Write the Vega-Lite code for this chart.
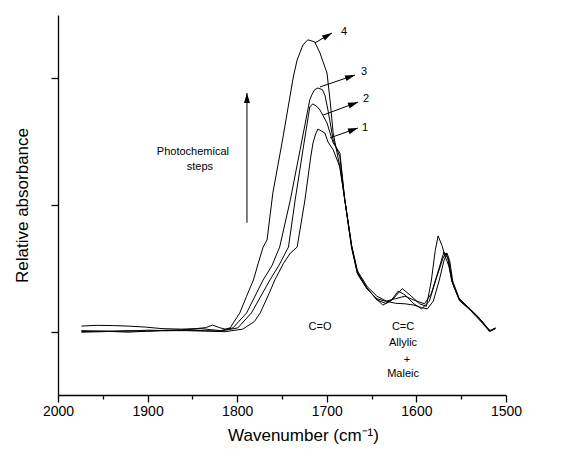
{
  "$schema": "https://vega.github.io/schema/vega-lite/v6.json",
  "width": 448,
  "height": 380,
  "autosize": "none",
  "padding": {"left": 58, "top": 15, "right": 55, "bottom": 61},
  "config": {
    "view": {"stroke": null},
    "font": "Liberation Sans",
    "axis": {
      "domainColor": "black", "domainWidth": 1.3, "tickColor": "black", "tickWidth": 1.3,
      "labelColor": "black", "titleColor": "black", "grid": false,
      "labelFont": "Liberation Sans", "titleFont": "Liberation Sans", "titleFontWeight": "normal"
    }
  },
  "datasets": {
    "spectra": [
      {"curve": "4", "wn": 1973.9, "abs": 0.022}, {"curve": "4", "wn": 1956.6, "abs": 0.025}, {"curve": "4", "wn": 1938.1, "abs": 0.024}, {"curve": "4", "wn": 1921.8, "abs": 0.022}, {"curve": "4", "wn": 1902.3, "abs": 0.018}, {"curve": "4", "wn": 1883.9, "abs": 0.012}, {"curve": "4", "wn": 1862.2, "abs": 0.010}, {"curve": "4", "wn": 1845.9, "abs": 0.012}, {"curve": "4", "wn": 1835.1, "abs": 0.016}, {"curve": "4", "wn": 1827.5, "abs": 0.026}, {"curve": "4", "wn": 1819.9, "abs": 0.016}, {"curve": "4", "wn": 1813.4, "abs": 0.010}, {"curve": "4", "wn": 1807.9, "abs": 0.015}, {"curve": "4", "wn": 1797.1, "abs": 0.074}, {"curve": "4", "wn": 1789.5, "abs": 0.14}, {"curve": "4", "wn": 1781.9, "abs": 0.204}, {"curve": "4", "wn": 1776.5, "abs": 0.27}, {"curve": "4", "wn": 1771.1, "abs": 0.334}, {"curve": "4", "wn": 1766.7, "abs": 0.362}, {"curve": "4", "wn": 1760.2, "abs": 0.548}, {"curve": "4", "wn": 1749.4, "abs": 0.757}, {"curve": "4", "wn": 1737.4, "abs": 1.005}, {"curve": "4", "wn": 1733.1, "abs": 1.073}, {"curve": "4", "wn": 1726.6, "abs": 1.132}, {"curve": "4", "wn": 1721.2, "abs": 1.152}, {"curve": "4", "wn": 1713.6, "abs": 1.144}, {"curve": "4", "wn": 1707.6, "abs": 1.10}, {"curve": "4", "wn": 1699.8, "abs": 1.021}, {"curve": "4", "wn": 1696.4, "abs": 0.915}, {"curve": "4", "wn": 1692.9, "abs": 0.784}, {"curve": "4", "wn": 1685.4, "abs": 0.65}, {"curve": "4", "wn": 1679.9, "abs": 0.52}, {"curve": "4", "wn": 1672.3, "abs": 0.34}, {"curve": "4", "wn": 1665.8, "abs": 0.235}, {"curve": "4", "wn": 1655.0, "abs": 0.172}, {"curve": "4", "wn": 1644.1, "abs": 0.125}, {"curve": "4", "wn": 1634.4, "abs": 0.112}, {"curve": "4", "wn": 1625.7, "abs": 0.13}, {"curve": "4", "wn": 1615.9, "abs": 0.17}, {"curve": "4", "wn": 1607.2, "abs": 0.145}, {"curve": "4", "wn": 1596.4, "abs": 0.11}, {"curve": "4", "wn": 1588.8, "abs": 0.10}, {"curve": "4", "wn": 1583.4, "abs": 0.2}, {"curve": "4", "wn": 1579.0, "abs": 0.32}, {"curve": "4", "wn": 1575.8, "abs": 0.378}, {"curve": "4", "wn": 1571.4, "abs": 0.34}, {"curve": "4", "wn": 1568.2, "abs": 0.30}, {"curve": "4", "wn": 1563.9, "abs": 0.26}, {"curve": "4", "wn": 1559.5, "abs": 0.19}, {"curve": "4", "wn": 1553.0, "abs": 0.135}, {"curve": "4", "wn": 1542.2, "abs": 0.095}, {"curve": "4", "wn": 1531.3, "abs": 0.06}, {"curve": "4", "wn": 1522.6, "abs": 0.02}, {"curve": "4", "wn": 1517.2, "abs": 0.003}, {"curve": "4", "wn": 1511.8, "abs": 0.012},

      {"curve": "3", "wn": 1973.9, "abs": 0.004}, {"curve": "3", "wn": 1949.0, "abs": 0.002}, {"curve": "3", "wn": 1921.8, "abs": 0.002}, {"curve": "3", "wn": 1900.1, "abs": 0.006}, {"curve": "3", "wn": 1878.4, "abs": 0.004}, {"curve": "3", "wn": 1856.8, "abs": 0.008}, {"curve": "3", "wn": 1840.5, "abs": 0.012}, {"curve": "3", "wn": 1829.6, "abs": 0.008}, {"curve": "3", "wn": 1818.8, "abs": 0.004}, {"curve": "3", "wn": 1804.7, "abs": 0.015}, {"curve": "3", "wn": 1789.5, "abs": 0.074}, {"curve": "3", "wn": 1771.1, "abs": 0.204}, {"curve": "3", "wn": 1761.3, "abs": 0.26}, {"curve": "3", "wn": 1752.6, "abs": 0.334}, {"curve": "3", "wn": 1740.7, "abs": 0.52}, {"curve": "3", "wn": 1729.8, "abs": 0.718}, {"curve": "3", "wn": 1719.0, "abs": 0.915}, {"curve": "3", "wn": 1716.8, "abs": 0.934}, {"curve": "3", "wn": 1713.6, "abs": 0.955}, {"curve": "3", "wn": 1709.9, "abs": 0.962}, {"curve": "3", "wn": 1704.9, "abs": 0.955}, {"curve": "3", "wn": 1702.1, "abs": 0.934}, {"curve": "3", "wn": 1698.7, "abs": 0.875}, {"curve": "3", "wn": 1692.9, "abs": 0.757}, {"curve": "3", "wn": 1685.4, "abs": 0.69}, {"curve": "3", "wn": 1679.9, "abs": 0.52}, {"curve": "3", "wn": 1672.3, "abs": 0.335}, {"curve": "3", "wn": 1665.8, "abs": 0.23}, {"curve": "3", "wn": 1655.0, "abs": 0.17}, {"curve": "3", "wn": 1644.1, "abs": 0.128}, {"curve": "3", "wn": 1637.6, "abs": 0.105}, {"curve": "3", "wn": 1628.9, "abs": 0.12}, {"curve": "3", "wn": 1620.3, "abs": 0.16}, {"curve": "3", "wn": 1612.7, "abs": 0.145}, {"curve": "3", "wn": 1602.9, "abs": 0.11}, {"curve": "3", "wn": 1594.2, "abs": 0.09}, {"curve": "3", "wn": 1585.6, "abs": 0.12}, {"curve": "3", "wn": 1576.9, "abs": 0.22}, {"curve": "3", "wn": 1570.4, "abs": 0.29}, {"curve": "3", "wn": 1567.1, "abs": 0.31}, {"curve": "3", "wn": 1563.9, "abs": 0.28}, {"curve": "3", "wn": 1559.5, "abs": 0.19}, {"curve": "3", "wn": 1551.9, "abs": 0.125}, {"curve": "3", "wn": 1540.0, "abs": 0.088}, {"curve": "3", "wn": 1525.9, "abs": 0.036}, {"curve": "3", "wn": 1518.3, "abs": 0.003}, {"curve": "3", "wn": 1511.8, "abs": 0.015},

      {"curve": "2", "wn": 1973.9, "abs": -0.002}, {"curve": "2", "wn": 1949.0, "abs": 0.0}, {"curve": "2", "wn": 1921.8, "abs": 0.004}, {"curve": "2", "wn": 1900.1, "abs": 0.002}, {"curve": "2", "wn": 1878.4, "abs": 0.006}, {"curve": "2", "wn": 1856.8, "abs": 0.006}, {"curve": "2", "wn": 1835.1, "abs": 0.004}, {"curve": "2", "wn": 1818.8, "abs": 0.002}, {"curve": "2", "wn": 1799.3, "abs": 0.015}, {"curve": "2", "wn": 1784.1, "abs": 0.074}, {"curve": "2", "wn": 1763.5, "abs": 0.204}, {"curve": "2", "wn": 1753.7, "abs": 0.26}, {"curve": "2", "wn": 1742.8, "abs": 0.334}, {"curve": "2", "wn": 1735.3, "abs": 0.52}, {"curve": "2", "wn": 1726.6, "abs": 0.718}, {"curve": "2", "wn": 1719.0, "abs": 0.887}, {"curve": "2", "wn": 1715.7, "abs": 0.899}, {"curve": "2", "wn": 1711.4, "abs": 0.89}, {"curve": "2", "wn": 1707.6, "abs": 0.875}, {"curve": "2", "wn": 1699.8, "abs": 0.824}, {"curve": "2", "wn": 1692.9, "abs": 0.745}, {"curve": "2", "wn": 1685.4, "abs": 0.705}, {"curve": "2", "wn": 1679.9, "abs": 0.52}, {"curve": "2", "wn": 1672.3, "abs": 0.33}, {"curve": "2", "wn": 1665.8, "abs": 0.228}, {"curve": "2", "wn": 1655.0, "abs": 0.168}, {"curve": "2", "wn": 1644.1, "abs": 0.13}, {"curve": "2", "wn": 1634.4, "abs": 0.12}, {"curve": "2", "wn": 1623.5, "abs": 0.13}, {"curve": "2", "wn": 1612.7, "abs": 0.14}, {"curve": "2", "wn": 1602.9, "abs": 0.125}, {"curve": "2", "wn": 1591.0, "abs": 0.11}, {"curve": "2", "wn": 1583.4, "abs": 0.15}, {"curve": "2", "wn": 1574.7, "abs": 0.25}, {"curve": "2", "wn": 1569.3, "abs": 0.315}, {"curve": "2", "wn": 1564.9, "abs": 0.29}, {"curve": "2", "wn": 1560.6, "abs": 0.2}, {"curve": "2", "wn": 1551.9, "abs": 0.122}, {"curve": "2", "wn": 1540.0, "abs": 0.085}, {"curve": "2", "wn": 1525.9, "abs": 0.032}, {"curve": "2", "wn": 1518.3, "abs": 0.0}, {"curve": "2", "wn": 1511.8, "abs": 0.014},

      {"curve": "1", "wn": 1973.9, "abs": 0.0}, {"curve": "1", "wn": 1949.0, "abs": 0.002}, {"curve": "1", "wn": 1921.8, "abs": -0.002}, {"curve": "1", "wn": 1900.1, "abs": 0.002}, {"curve": "1", "wn": 1878.4, "abs": 0.004}, {"curve": "1", "wn": 1856.8, "abs": 0.004}, {"curve": "1", "wn": 1835.1, "abs": 0.002}, {"curve": "1", "wn": 1813.4, "abs": 0.0}, {"curve": "1", "wn": 1793.8, "abs": 0.01}, {"curve": "1", "wn": 1780.8, "abs": 0.04}, {"curve": "1", "wn": 1774.3, "abs": 0.074}, {"curve": "1", "wn": 1764.5, "abs": 0.15}, {"curve": "1", "wn": 1758.0, "abs": 0.204}, {"curve": "1", "wn": 1748.3, "abs": 0.27}, {"curve": "1", "wn": 1740.7, "abs": 0.31}, {"curve": "1", "wn": 1733.1, "abs": 0.334}, {"curve": "1", "wn": 1724.4, "abs": 0.52}, {"curve": "1", "wn": 1717.9, "abs": 0.69}, {"curve": "1", "wn": 1715.4, "abs": 0.745}, {"curve": "1", "wn": 1712.5, "abs": 0.78}, {"curve": "1", "wn": 1709.9, "abs": 0.80}, {"curve": "1", "wn": 1706.0, "abs": 0.792}, {"curve": "1", "wn": 1702.1, "abs": 0.784}, {"curve": "1", "wn": 1698.7, "abs": 0.749}, {"curve": "1", "wn": 1692.9, "abs": 0.718}, {"curve": "1", "wn": 1685.4, "abs": 0.65}, {"curve": "1", "wn": 1679.9, "abs": 0.52}, {"curve": "1", "wn": 1672.3, "abs": 0.34}, {"curve": "1", "wn": 1665.8, "abs": 0.24}, {"curve": "1", "wn": 1655.0, "abs": 0.178}, {"curve": "1", "wn": 1644.1, "abs": 0.14}, {"curve": "1", "wn": 1633.3, "abs": 0.12}, {"curve": "1", "wn": 1623.5, "abs": 0.112}, {"curve": "1", "wn": 1612.7, "abs": 0.11}, {"curve": "1", "wn": 1602.9, "abs": 0.105}, {"curve": "1", "wn": 1594.2, "abs": 0.095}, {"curve": "1", "wn": 1587.7, "abs": 0.09}, {"curve": "1", "wn": 1581.2, "abs": 0.12}, {"curve": "1", "wn": 1574.7, "abs": 0.2}, {"curve": "1", "wn": 1569.3, "abs": 0.28}, {"curve": "1", "wn": 1566.0, "abs": 0.311}, {"curve": "1", "wn": 1562.8, "abs": 0.28}, {"curve": "1", "wn": 1559.5, "abs": 0.2}, {"curve": "1", "wn": 1551.9, "abs": 0.128}, {"curve": "1", "wn": 1540.0, "abs": 0.09}, {"curve": "1", "wn": 1525.9, "abs": 0.038}, {"curve": "1", "wn": 1518.3, "abs": 0.004}, {"curve": "1", "wn": 1511.8, "abs": 0.012}
    ],
    "arrows": [
      {"name": "4", "wn": 1713.2, "abs": 1.140, "wn2": 1694.2, "abs2": 1.179},
      {"name": "3", "wn": 1707.6, "abs": 0.966, "wn2": 1668.5, "abs2": 1.013},
      {"name": "2", "wn": 1704.2, "abs": 0.855, "wn2": 1665.2, "abs2": 0.906},
      {"name": "1", "wn": 1696.4, "abs": 0.765, "wn2": 1665.2, "abs2": 0.804},
      {"name": "steps", "wn": 1789.1, "abs": 0.43, "wn2": 1789.1, "abs2": 0.942}
    ],
    "labels": [
      {"text": "4", "wn": 1680.8, "abs": 1.183},
      {"text": "3", "wn": 1658.4, "abs": 1.026},
      {"text": "2", "wn": 1656.3, "abs": 0.918},
      {"text": "1", "wn": 1657.4, "abs": 0.804},
      {"text": "Photochemical", "wn": 1849.4, "abs": 0.709},
      {"text": "steps", "wn": 1841.6, "abs": 0.650},
      {"text": "C=O", "wn": 1707.6, "abs": 0.02},
      {"text": "C=C", "wn": 1614.9, "abs": 0.02},
      {"text": "Allylic", "wn": 1614.9, "abs": -0.045},
      {"text": "+", "wn": 1610.5, "abs": -0.112},
      {"text": "Maleic", "wn": 1614.9, "abs": -0.167}
    ]
  },
  "resolve": {"axis": {"x": "independent"}},
  "layer": [
    {
      "data": {"name": "spectra"},
      "mark": {"type": "line", "color": "black", "strokeWidth": 1, "interpolate": "linear"},
      "encoding": {
        "x": {"field": "wn", "type": "quantitative",
              "scale": {"domain": [1500, 2000], "reverse": true, "nice": false, "zero": false},
              "axis": {"values": [2000, 1900, 1800, 1700, 1600, 1500], "format": "d", "tickSize": 7,
                       "labelFontSize": 14, "labelPadding": 2, "labelFlush": false, "labelOverlap": false,
                       "title": "Wavenumber (cm⁻¹)", "titleFontSize": 17, "titlePadding": 9,
                       "titleX": 245, "titleAlign": "center"}},
        "y": {"field": "abs", "type": "quantitative",
              "scale": {"domain": [-0.25, 1.25], "nice": false, "zero": false},
              "axis": {"values": [0, 0.5, 1], "labels": false, "tickSize": 7,
                       "title": "Relative absorbance", "titleFontSize": 17,
                       "titleX": -36, "titleY": 190, "titleAngle": -90, "titleAlign": "center", "titleBaseline": "middle"}},
        "detail": {"field": "curve", "type": "nominal"}
      }
    },
    {
      "data": {"name": "arrows"},
      "mark": {"type": "rule", "color": "black", "strokeWidth": 1},
      "encoding": {
        "x": {"field": "wn", "type": "quantitative", "axis": null},
        "y": {"field": "abs", "type": "quantitative"},
        "x2": {"field": "wn2"},
        "y2": {"field": "abs2"}
      }
    },
    {
      "data": {"name": "arrows"},
      "transform": [
        {"calculate": "atan2(-(datum.abs2 - datum.abs) * 253.3, -(datum.wn2 - datum.wn) * 0.896) * 180 / PI", "as": "ang"}
      ],
      "mark": {"type": "point", "shape": "M 0 0 L -2 -0.6 L -2 0.6 Z", "filled": true, "color": "black", "opacity": 1, "size": 100, "strokeWidth": 0},
      "encoding": {
        "x": {"field": "wn2", "type": "quantitative",
              "axis": {"orient": "bottom", "values": [1950, 1850, 1750, 1650, 1550], "tickSize": 4, "labels": false, "domain": false, "title": null}},
        "y": {"field": "abs2", "type": "quantitative"},
        "angle": {"field": "ang", "type": "quantitative", "scale": null}
      }
    },
    {
      "data": {"name": "labels"},
      "mark": {"type": "text", "fontSize": 11, "color": "black", "align": "center", "baseline": "middle", "font": "Liberation Sans"},
      "encoding": {
        "x": {"field": "wn", "type": "quantitative", "axis": null},
        "y": {"field": "abs", "type": "quantitative"},
        "text": {"field": "text", "type": "nominal"}
      }
    }
  ]
}
